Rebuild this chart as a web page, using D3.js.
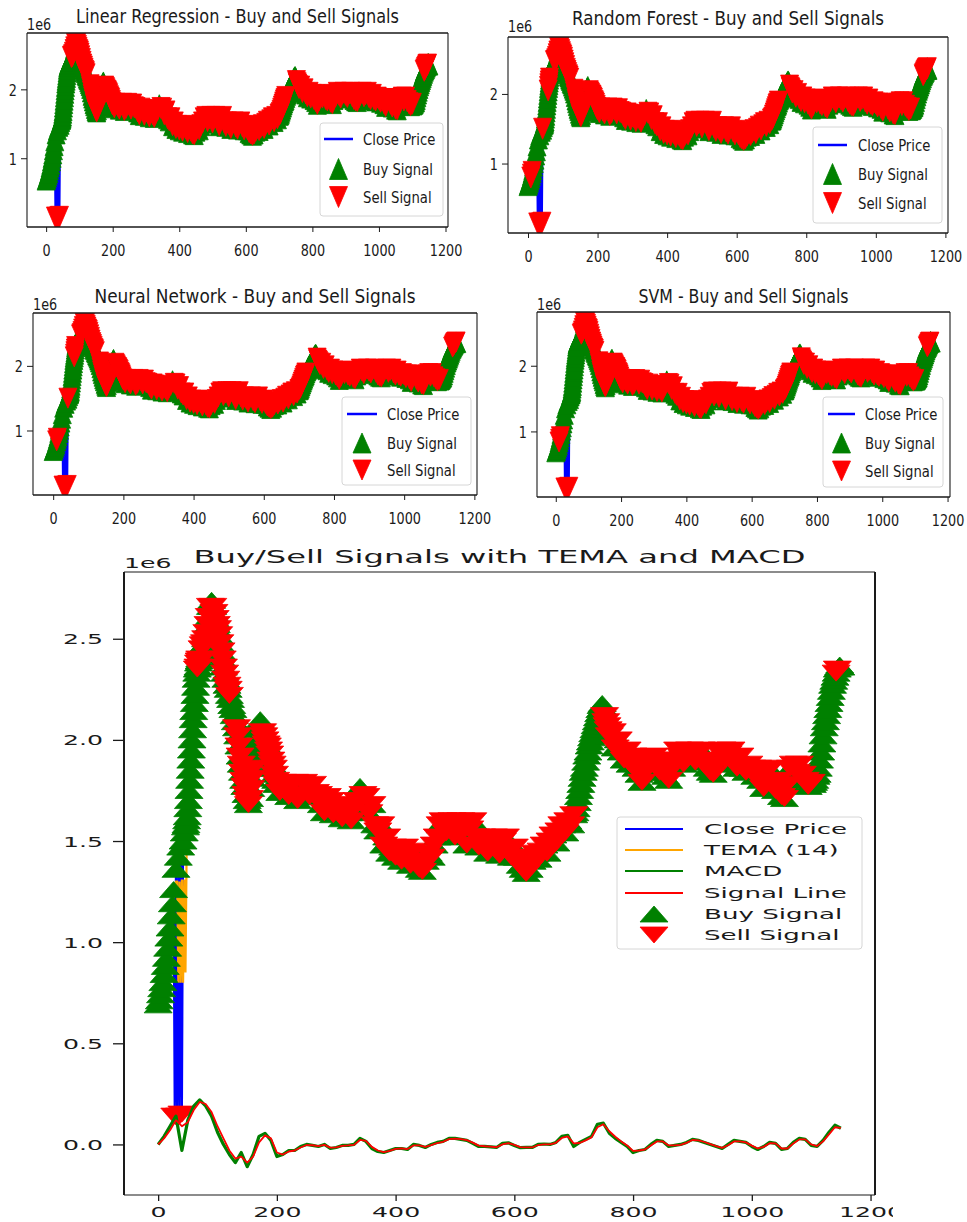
<!DOCTYPE html>
<html><head><meta charset="utf-8">
<script src="https://cdn.jsdelivr.net/npm/d3@7"></script>
<style>body{margin:0;background:#fff}svg{display:block}</style>
</head><body>
<svg id="c" width="967" height="1222"></svg>
<script>
// ---------------- DATA ----------------
// Close price (x1e6), in segments of different sampling density
const earlyDays = d3.range(0, 47, 2);
const earlyClose = [0.69,0.71,0.74,0.77,0.80,0.84,0.88,0.92,0.97,1.02,
  1.07,1.13,1.19,1.26,0.14,1.36,0.13,1.42,0.14,1.47,
  0.15,1.50,1.54,1.57];
const surgeDays = d3.range(47, 71, 1);
const surgeClose = [1.58,1.60,1.62,1.66,1.70,1.75,1.80,1.85,1.90,1.95,
  2.00,2.05,2.10,2.14,2.18,2.22,2.26,2.30,2.33,2.35,
  2.36,2.38,2.39,2.40];
const peakDays = d3.range(72, 99, 2);
const peakClose = [2.42,2.45,2.47,2.48,2.50,2.53,2.57,2.61,2.66,2.69,2.66,2.63,2.60,2.57];
const dropDays = d3.range(100, 201, 2);
const dropClose = [2.55,2.52,2.48,2.44,2.40,2.36,2.33,2.30,2.27,2.25,
  2.22,2.20,2.17,2.15,2.12,2.09,2.06,2.02,1.97,1.92,
  1.88,1.84,1.80,1.77,1.73,1.70,1.68,1.71,1.76,1.81,
  1.86,1.91,1.96,2.00,2.05,2.08,2.10,2.07,2.04,2.02,
  2.00,1.98,1.97,1.95,1.93,1.90,1.88,1.86,1.83,1.80,
  1.78];
const midDays = d3.range(205, 701, 5);
const midClose = [1.74,1.79,1.76,1.72,1.78,1.79,1.70,1.73,1.79,1.77,1.72,1.78,1.74,
  1.73,1.68,1.64,1.72,1.70,1.63,1.68,
  1.66,1.61,1.67,1.64,1.60,1.66,1.70,
  1.77,
  1.73,1.72,1.64,1.68,1.58,1.55,1.58,1.48,1.52,1.44,
  1.47,1.42,1.46,1.40,1.47,1.43,1.38,1.45,1.40,1.36,1.35,1.40,1.44,1.42,1.48,
  1.52,1.58,
  1.60,1.54,1.58,1.60,1.52,1.59,1.60,1.55,1.48,1.56,1.60,1.52,1.47,
  1.52,1.49,1.44,1.51,1.52,1.46,1.43,1.50,1.52,1.46,1.42,1.47,
  1.42,1.38,1.36,1.34,1.36,1.40,1.44,1.41,
  1.45,1.48,1.44,1.50,1.53,1.49,1.55,1.58,1.54,1.60,1.58,1.63];
const reboundDays = d3.range(702, 761, 2);
const reboundClose = [1.64,1.66,1.69,1.72,1.75,1.78,1.81,1.84,1.86,1.89,
  1.92,1.94,1.97,1.99,2.01,2.03,2.05,2.07,2.09,2.11,
  2.13,2.15,2.17,2.18,2.16,2.12,2.09,2.07,2.05,2.02];
const plateauDays = d3.range(765, 1101, 5);
const plateauClose = [2.04,1.96,2.00,1.94,1.90,1.95,1.88,1.92,
  1.86,1.83,1.79,1.84,1.91,1.88,1.92,1.86,1.84,1.90,1.82,1.80,1.86,1.90,
  1.95,1.92,1.88,1.94,1.95,1.92,1.89,1.94,1.95,1.90,1.86,1.84,1.83,1.88,
  1.94,1.95,1.90,1.93,1.95,1.89,1.86,1.92,1.86,1.84,1.88,1.86,1.82,
  1.86,1.80,1.76,1.84,1.86,1.79,1.75,1.80,1.72,1.71,1.78,
  1.86,1.88,1.84,1.88,1.83,1.80,1.77,1.79];
const finalDays = d3.range(1102, 1151, 2);
const finalClose = [1.78,1.79,1.80,1.82,1.83,1.86,1.90,1.94,1.98,2.02,
  2.06,2.09,2.12,2.15,2.18,2.21,2.24,2.27,2.29,2.31,
  2.33,2.35,2.36,2.37,2.36];
// days where the close price collapses (bad ticks) - always sell signals
const glitchLowDays = [28, 32, 36, 40];

// Indicators, every 10 days
const indicatorDays = d3.range(0, 1151, 10);
const temaValues = [0.69,0.84,1.07,1.30,0.80,1.62,2.12,2.40,2.50,2.68,
  2.56,2.37,2.22,2.09,1.88,1.70,1.86,2.08,2.04,1.92,
  1.78,1.78,1.75,1.77,1.71,1.75,1.74,1.68,1.65,1.66,
  1.63,1.65,1.64,1.70,1.75,1.70,1.60,1.55,1.48,1.45,
  1.43,1.42,1.43,1.38,1.36,1.38,1.42,1.50,1.57,1.60,
  1.58,1.59,1.56,1.52,1.50,1.52,1.49,1.51,1.47,1.42,
  1.40,1.36,1.34,1.38,1.43,1.41,1.47,1.52,1.55,1.60,
  1.63,1.75,1.88,2.00,2.12,2.17,2.06,1.99,2.01,1.92,
  1.88,1.81,1.85,1.89,1.88,1.82,1.81,1.87,1.93,1.95,
  1.93,1.91,1.94,1.85,1.88,1.93,1.93,1.87,1.88,1.84,
  1.85,1.80,1.79,1.84,1.76,1.72,1.80,1.86,1.87,1.82,
  1.77,1.84,2.02,2.18,2.31,2.36];
// TEMA swings while the close price is glitching
const temaGlitchDays = d3.range(32, 49, 2);
const temaGlitchValues = [1.30,0.80,1.30,0.80,1.31,0.80,1.31,0.85,1.45];
const macdValues = [0.00,0.04,0.09,0.14,-0.03,0.12,0.19,0.22,0.19,0.14,
  0.06,0.0,-0.05,-0.09,-0.04,-0.11,-0.05,0.04,0.055,0.02,
  -0.06,-0.05,-0.03,-0.03,-0.01,0.0,-0.005,-0.01,0.0,-0.02,
  -0.015,-0.005,-0.005,0.0,0.03,0.015,-0.02,-0.035,-0.04,-0.03,
  -0.02,-0.02,-0.025,0.0,-0.005,-0.015,0.0,0.01,0.015,0.03,
  0.03,0.025,0.02,0.005,-0.01,-0.01,-0.012,-0.015,0.005,0.008,
  -0.005,-0.016,-0.015,-0.015,0.0,0.002,0.0,0.01,0.04,0.045,
  -0.01,0.01,0.025,0.04,0.10,0.105,0.055,0.03,0.01,-0.01,
  -0.04,-0.03,-0.025,0.0,0.02,0.015,-0.01,-0.005,0.0,0.01,
  0.025,0.02,0.01,0.0,-0.01,-0.02,0.0,0.02,0.015,0.01,
  -0.01,-0.025,-0.01,0.01,0.005,-0.025,-0.02,0.01,0.03,0.025,
  -0.005,-0.01,0.02,0.06,0.095,0.08];
const signalValues = [0.0,0.03,0.07,0.12,0.09,0.11,0.17,0.21,0.20,0.16,
  0.09,0.03,-0.03,-0.07,-0.06,-0.09,-0.06,0.01,0.045,0.03,
  -0.04,-0.05,-0.035,-0.03,-0.015,-0.003,-0.004,-0.008,-0.002,-0.016,
  -0.015,-0.007,-0.005,-0.002,0.022,0.018,-0.012,-0.03,-0.038,-0.032,
  -0.022,-0.02,-0.023,-0.005,-0.005,-0.012,-0.003,0.007,0.013,0.026,
  0.029,0.026,0.021,0.009,-0.006,-0.009,-0.011,-0.014,0.0,0.006,
  -0.002,-0.013,-0.015,-0.015,-0.003,0.0,0.0,0.008,0.032,0.04,
  0.005,0.007,0.02,0.035,0.085,0.10,0.065,0.038,0.015,-0.005,
  -0.032,-0.03,-0.025,-0.005,0.015,0.015,-0.005,-0.005,-0.002,0.008,
  0.022,0.02,0.012,0.002,-0.008,-0.017,-0.004,0.015,0.015,0.01,
  -0.006,-0.02,-0.012,0.006,0.005,-0.02,-0.02,0.005,0.025,0.025,
  0.0,-0.008,0.015,0.05,0.085,0.082];

// Signal runs (day ranges)
const buyRunsAll = [[0, 1150]];
const lrSellRuns  = [[76,88],[92,120],[132,160],[176,336],[345,720],[752,1100],[1136,1146]];
const rfSellRuns  = [[8,12],[42,42],[58,62],[76,120],[132,160],[176,336],[345,720],[752,1100],[1136,1148]];
const nnSellRuns  = [[10,12],[42,42],[60,64],[78,120],[132,160],[176,336],[345,720],[752,1100],[1138,1148]];
const svmSellRuns = [[10,14],[78,88],[92,120],[132,160],[176,336],[345,720],[752,1100],[1138,1146]];
const temaSellRuns = [[66,70],[74,88],[92,120],[132,160],[176,336],[345,700],[752,1100],[1142,1144]];

// Ticks / labels
const xTickValues = [0, 200, 400, 600, 800, 1000, 1200];
const smallYTickValues = [1, 2];
const bigYTickValues = [0, 0.5, 1.0, 1.5, 2.0, 2.5];
const bigYTickLabels = ["0.0", "0.5", "1.0", "1.5", "2.0", "2.5"];
const modelTitles = ["Linear Regression - Buy and Sell Signals", "Random Forest - Buy and Sell Signals",
  "Neural Network - Buy and Sell Signals", "SVM - Buy and Sell Signals"];
const bigTitle = "Buy/Sell Signals with TEMA and MACD";
const smallLegendLabels = ["Close Price", "Buy Signal", "Sell Signal"];
const bigLegendLabels = ["Close Price", "TEMA (14)", "MACD", "Signal Line", "Buy Signal", "Sell Signal"];

// ---------------- BUILD ----------------
const FONT = '"DejaVu Sans", "Liberation Sans", sans-serif';
const TXT = "#1a1a1a";
const pricePoints = [];
[[earlyDays, earlyClose],[surgeDays, surgeClose],[peakDays, peakClose],[dropDays, dropClose],
 [midDays, midClose],[reboundDays, reboundClose],[plateauDays, plateauClose],[finalDays, finalClose]]
 .forEach(([ds, vs]) => { ds.forEach((d, i) => { if (i < vs.length) pricePoints.push({d, v: vs[i]}); }); });

const temaPts = indicatorDays.map((d, i) => ({d, v: temaValues[i]}))
  .filter(p => p.d < temaGlitchDays[0] || p.d > temaGlitchDays[temaGlitchDays.length - 1])
  .concat(temaGlitchDays.map((d, i) => ({d, v: temaGlitchValues[i]})))
  .sort((a, b) => a.d - b.d);
const macdPts = indicatorDays.map((d, i) => ({d, v: macdValues[i]}));
const sigPts = indicatorDays.map((d, i) => ({d, v: signalValues[i]}));

const inRuns = (d, runs) => runs.some(r => d >= r[0] && d <= r[1]);
function signals(sellRuns) {
  const buys = [], sells = [];
  pricePoints.forEach(p => {
    if (glitchLowDays.includes(p.d)) { sells.push(p); return; }
    if (inRuns(p.d, buyRunsAll)) buys.push(p);
    if (inRuns(p.d, sellRuns)) sells.push(p);
  });
  return {buys, sells};
}
const tri = (w, h, up) => up
  ? `M0,${-h/2}L${w/2},${h/2}L${-w/2},${h/2}Z`
  : `M0,${h/2}L${w/2},${-h/2}L${-w/2},${-h/2}Z`;

const svg = d3.select("#c");
const xExt = d3.extent(pricePoints, p => p.d);
const xPad = (xExt[1] - xExt[0]) * 0.05;
const xDom = [xExt[0] - xPad, xExt[1] + xPad];

function addText(g, str, x, y, o) {
  const t = g.append("text").attr("transform", `translate(${x},${y}) scale(${o.sx || 1},1)`)
    .attr("font-family", FONT).attr("font-size", o.size).attr("fill", TXT)
    .attr("text-anchor", o.anchor || "start").text(str);
  if (o.length) t.attr("textLength", o.length / (o.sx || 1)).attr("lengthAdjust", "spacingAndGlyphs");
  return t;
}

let clipN = 0;
function drawPanel(c) {
  const g = svg.append("g");
  if (c.outerClip) {
    const oid = "oclip" + (clipN++);
    svg.append("clipPath").attr("id", oid).append("rect")
      .attr("x", 0).attr("y", c.outerClip[1]).attr("width", c.outerClip[0]).attr("height", 1222);
    g.attr("clip-path", `url(#${oid})`);
  }
  const x = d3.scaleLinear().domain(xDom).range([c.L, c.R]);
  const yExt = d3.extent(c.yValues);
  const yPad = (yExt[1] - yExt[0]) * 0.05;
  const y = d3.scaleLinear().domain([yExt[0] - yPad, yExt[1] + yPad]).range([c.B, c.T]);
  const id = "clip" + (clipN++);
  g.append("clipPath").attr("id", id).append("rect")
    .attr("x", c.L).attr("y", c.T).attr("width", c.R - c.L).attr("height", c.B - c.T);
  const plot = g.append("g").attr("clip-path", `url(#${id})`);
  const line = d3.line().x(p => x(p.d)).y(p => y(p.v));

  plot.append("path").datum(pricePoints).attr("d", line).attr("fill", "none")
    .attr("stroke", "#0000ff").attr("stroke-width", c.lw).attr("stroke-linejoin", "round");
  if (c.tema) plot.append("path").datum(temaPts).attr("d", line).attr("fill", "none")
    .attr("stroke", "#ffa500").attr("stroke-width", c.lw);

  const sg = signals(c.sellRuns);
  plot.selectAll(".buy").data(sg.buys).join("path").attr("class", "buy")
    .attr("transform", p => `translate(${x(p.d)},${y(p.v)})`).attr("d", tri(c.mw, c.mh, true))
    .attr("fill", "#008000").attr("stroke", "#008000").attr("stroke-width", 0.8);
  plot.selectAll(".sell").data(sg.sells).join("path").attr("class", "sell")
    .attr("transform", p => `translate(${x(p.d)},${y(p.v)})`).attr("d", tri(c.mw, c.mh, false))
    .attr("fill", "#ff0000").attr("stroke", "#ff0000").attr("stroke-width", 0.8);

  if (c.tema) {
    plot.append("path").datum(macdPts).attr("d", line).attr("fill", "none")
      .attr("stroke", "#008000").attr("stroke-width", 3.2).attr("stroke-linejoin", "round");
    plot.append("path").datum(sigPts).attr("d", line).attr("fill", "none")
      .attr("stroke", "#ff0000").attr("stroke-width", 1.8).attr("stroke-linejoin", "round");
  }

  // axes
  const ax = g.append("g").attr("transform", `translate(0,${c.B})`)
    .call(d3.axisBottom(x).tickValues(xTickValues).tickSize(c.xTick).tickFormat(d3.format("d")));
  ax.attr("font-family", FONT).attr("font-size", c.fs);
  ax.select(".domain").remove();
  ax.selectAll(".tick line").attr("stroke", TXT).attr("stroke-width", c.tickW);
  ax.selectAll(".tick text").attr("y", null).attr("dy", null).attr("fill", TXT)
    .attr("transform", `translate(0,${c.xLab}) scale(${c.sx},1)`);

  const ay = g.append("g").attr("transform", `translate(${c.L},0)`)
    .call(d3.axisLeft(y).tickValues(c.yTicks).tickSize(c.yTick).tickFormat((d, i) => c.yLabels[i]));
  ay.attr("font-family", FONT).attr("font-size", c.fs);
  ay.select(".domain").remove();
  ay.selectAll(".tick line").attr("stroke", TXT).attr("stroke-width", c.tickW);
  ay.selectAll(".tick text").attr("x", null).attr("dy", null).attr("fill", TXT)
    .attr("transform", `translate(${-c.yLab},${0.36 * c.fs}) scale(${c.sx},1)`);

  // frame
  const fr = g.append("g").attr("stroke", TXT);
  fr.append("line").attr("x1", c.L).attr("x2", c.R).attr("y1", c.T).attr("y2", c.T).attr("stroke-width", c.hW);
  fr.append("line").attr("x1", c.L).attr("x2", c.R).attr("y1", c.B).attr("y2", c.B).attr("stroke-width", c.hW);
  fr.append("line").attr("x1", c.L).attr("x2", c.L).attr("y1", c.T).attr("y2", c.B).attr("stroke-width", c.vW);
  fr.append("line").attr("x1", c.R).attr("x2", c.R).attr("y1", c.T).attr("y2", c.B).attr("stroke-width", c.vW);

  // texts
  addText(g, c.title, (c.L + c.R) / 2, c.titleY, {size: c.titleFs, anchor: "middle", length: c.titleW});
  addText(g, "1e6", c.L, c.offY, {size: c.fs, sx: c.sx});

  // legend
  const L = c.legend;
  g.append("rect").attr("x", L.x0).attr("y", L.y0).attr("width", L.x1 - L.x0).attr("height", L.y1 - L.y0)
    .attr("rx", 3).attr("fill", "#fff").attr("fill-opacity", 0.8).attr("stroke", "#d6d6d6").attr("stroke-width", 1);
  c.legendItems.forEach((e, i) => {
    const yy = L.rows[i];
    if (e.type === "line") {
      g.append("line").attr("x1", L.h1).attr("x2", L.h2).attr("y1", yy).attr("y2", yy)
        .attr("stroke", e.color).attr("stroke-width", L.lw);
    } else {
      g.append("path").attr("transform", `translate(${(L.h1 + L.h2) / 2},${yy})`)
        .attr("d", tri(c.mw, c.mh, e.type === "up")).attr("fill", e.color).attr("stroke", e.color).attr("stroke-width", 0.8);
    }
    addText(g, e.label, L.tx, yy + 0.36 * L.fs, {size: L.fs, sx: c.sx});
  });
}

const priceVals = pricePoints.map(p => p.v);
const smallLegendItems = [
  {type: "line", color: "#0000ff", label: smallLegendLabels[0]},
  {type: "up", color: "#008000", label: smallLegendLabels[1]},
  {type: "down", color: "#ff0000", label: smallLegendLabels[2]}];
const smallBase = {sx: 0.8, fs: 16, titleFs: 20, xTick: 5, yTick: 6, xLab: 29, yLab: 10,
  tickW: 1, hW: 1.3, vW: 1.1, lw: 2, yValues: priceVals, yTicks: smallYTickValues,
  yLabels: smallYTickValues.map(String), legendItems: smallLegendItems};

drawPanel(Object.assign({}, smallBase, {L: 27, R: 448, T: 33, B: 227, title: modelTitles[0], titleY: 23, titleW: 323,
  offY: 30, mw: 18, mh: 21, sellRuns: lrSellRuns,
  legend: {x0: 320, y0: 123, x1: 443, y1: 216, rows: [139, 169, 197], h1: 324, h2: 353, tx: 363, fs: 16.5, lw: 2.5}}));
drawPanel(Object.assign({}, smallBase, {L: 508, R: 948, T: 37, B: 233, title: modelTitles[1], titleY: 25, titleW: 312,
  offY: 32, mw: 18, mh: 21, sellRuns: rfSellRuns,
  legend: {x0: 813, y0: 127, x1: 942, y1: 223, rows: [145, 174, 203], h1: 818, h2: 847, tx: 858, fs: 16.5, lw: 2.5}}));
drawPanel(Object.assign({}, smallBase, {L: 33, R: 477, T: 313, B: 495, title: modelTitles[2], titleY: 303, titleW: 321,
  offY: 310, mw: 18, mh: 20, sellRuns: nnSellRuns,
  legend: {x0: 342, y0: 397, x1: 471, y1: 485, rows: [414, 443, 470], h1: 347, h2: 377, tx: 387, fs: 16.5, lw: 2.5}}));
drawPanel(Object.assign({}, smallBase, {L: 537, R: 950, T: 312, B: 497, title: modelTitles[3], titleY: 303, titleW: 210,
  offY: 310, mw: 18, mh: 20, sellRuns: svmSellRuns,
  legend: {x0: 823, y0: 397, x1: 943, y1: 487, rows: [414, 443, 471], h1: 828, h2: 855, tx: 865, fs: 16.5, lw: 2.5}}));

drawPanel({L: 124, R: 875, T: 572, B: 1195, sx: 1.8, fs: 14, titleFs: 17.5, title: bigTitle, titleY: 563, titleW: 612,
  offY: 568, xTick: 6, yTick: 11, xLab: 22, yLab: 21, tickW: 1.3, hW: 1.2, vW: 2, lw: 2.2, outerClip: [893, 540],
  yValues: priceVals.concat(macdValues, signalValues, temaValues), yTicks: bigYTickValues, yLabels: bigYTickLabels,
  mw: 28, mh: 16, sellRuns: temaSellRuns, tema: true,
  legendItems: [
    {type: "line", color: "#0000ff", label: bigLegendLabels[0]},
    {type: "line", color: "#ffa500", label: bigLegendLabels[1]},
    {type: "line", color: "#008000", label: bigLegendLabels[2]},
    {type: "line", color: "#ff0000", label: bigLegendLabels[3]},
    {type: "up", color: "#008000", label: bigLegendLabels[4]},
    {type: "down", color: "#ff0000", label: bigLegendLabels[5]}],
  legend: {x0: 617, y0: 817, x1: 862, y1: 949, rows: [829, 850, 871, 893, 914, 935], h1: 625, h2: 683, tx: 704, fs: 14.5, lw: 2}});
</script>
</body></html>
